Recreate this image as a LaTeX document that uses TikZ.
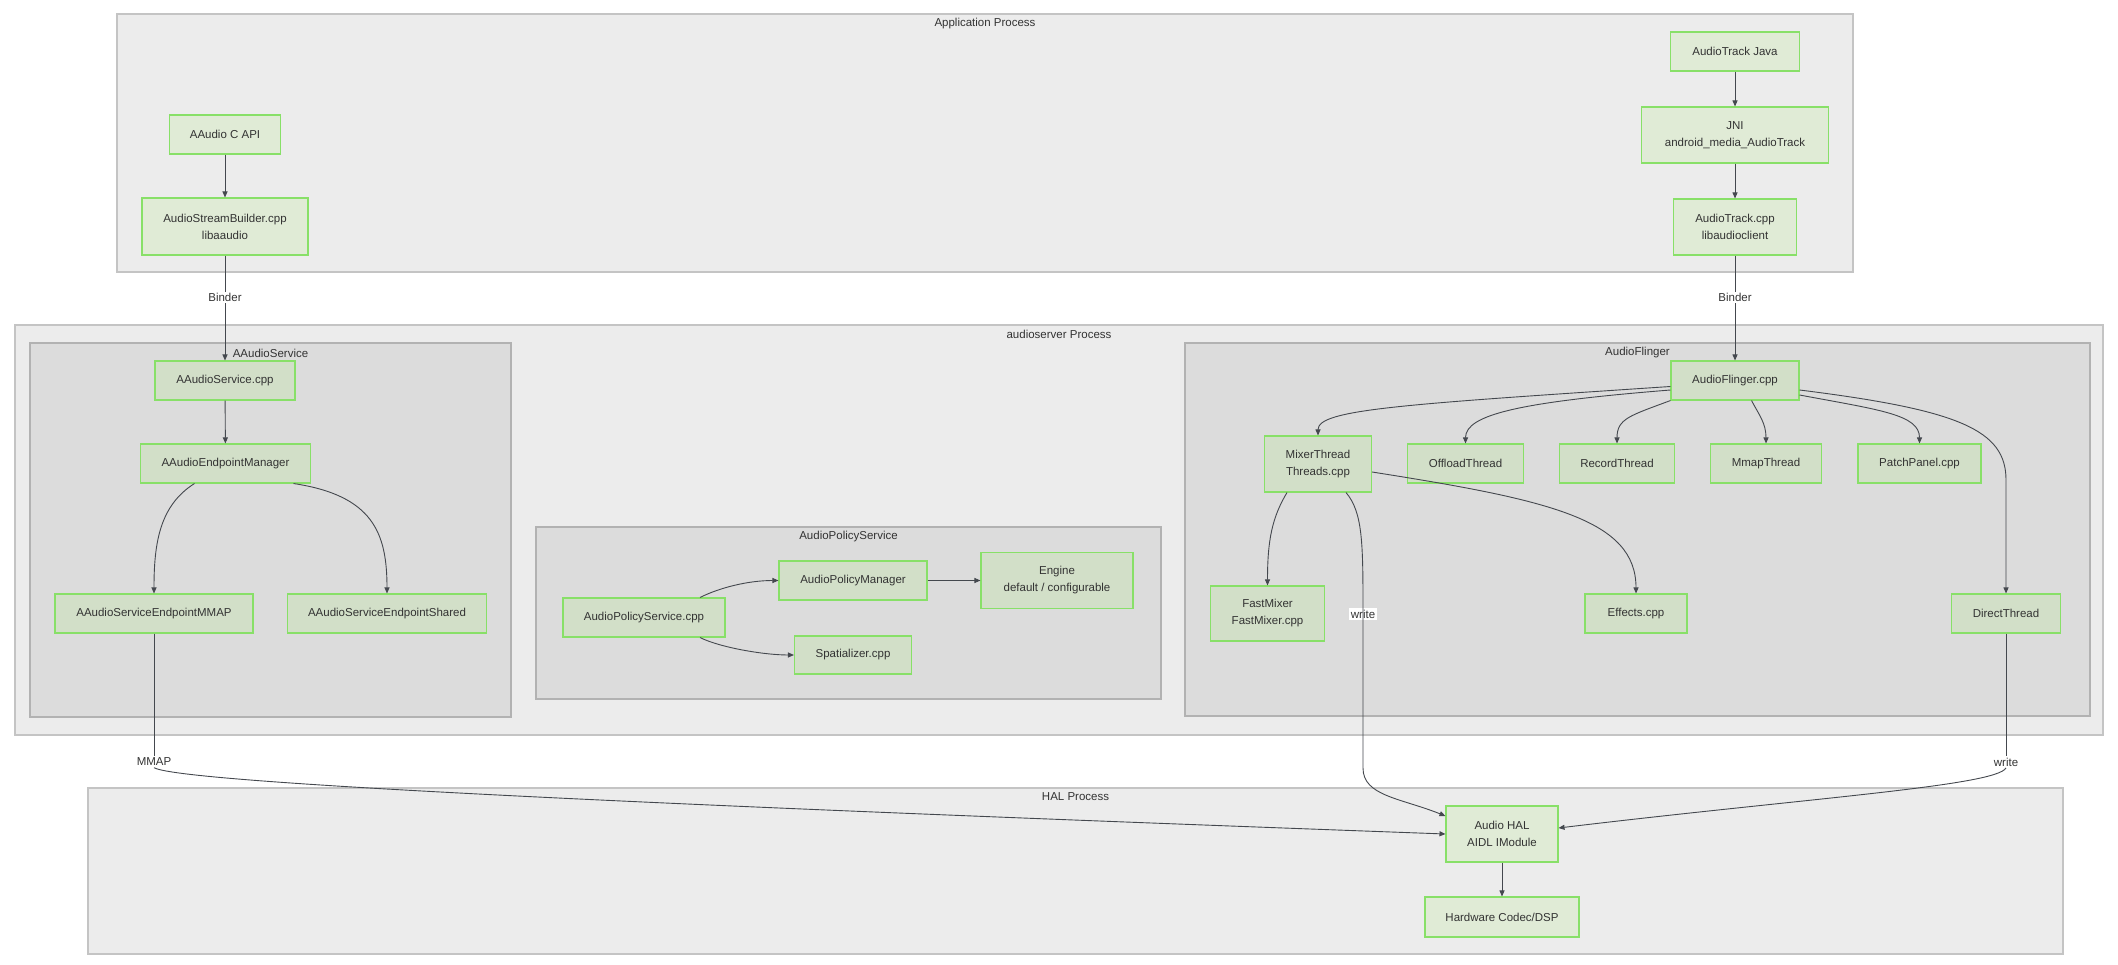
\documentclass[tikz,border=0pt]{standalone}
\usepackage{fontspec}
\setmainfont{Liberation Sans}
\usetikzlibrary{arrows.meta}
\definecolor{procfill}{RGB}{236,236,236}
\definecolor{procline}{RGB}{196,196,196}
\definecolor{svcfill}{RGB}{220,220,220}
\definecolor{svcline}{RGB}{178,178,178}
\definecolor{boxfill}{RGB}{224,235,214}
\definecolor{boxfilldk}{RGB}{210,223,200}
\definecolor{boxline}{RGB}{136,224,104}
\definecolor{inkcol}{RGB}{51,51,51}
\definecolor{wirecol}{RGB}{68,72,78}
\begin{document}
\begin{tikzpicture}[x=1pt,y=-1pt,
  font=\fontsize{11.5}{17}\selectfont, text=inkcol,
  proc/.style={draw=procline,fill=procfill,line width=1.2pt},
  svc/.style={draw=svcline,fill=svcfill,line width=1.2pt},
  comp/.style={draw=boxline,fill=boxfill,line width=1.05pt,minimum height=39pt,inner xsep=4pt,inner ysep=0pt,align=center},
  compdk/.style={comp,fill=boxfilldk},
  plain/.style={draw=wirecol,line width=0.9pt},
  wire/.style={plain,-{Triangle[length=6pt,width=5pt]}},
  tag/.style={fill=white,inner sep=1.5pt}]
\useasboundingbox (0,0) rectangle (2118,965);

\draw[proc] (117,14) rectangle (1853,272);
\node (applbl) at (985,24) {Application Process};
\draw[proc] (15,325) rectangle (2103,735);
\node (srvlbl) at (1059,334) {audioserver Process};
\draw[svc] (30,343) rectangle (511,717);
\node (aalbl) at (270.5,353) {AAudioService};
\draw[svc] (536,527) rectangle (1161,699);
\node (aplbl) at (848.5,537) {AudioPolicyService};
\draw[svc] (1185,343) rectangle (2090,716);
\node (aflbl) at (1637.5,353) {AudioFlinger};
\draw[proc] (88,788) rectangle (2063,954);
\node (hallbl) at (1075.5,797) {HAL Process};

\node[comp,minimum width=111pt] (capi) at (225,134.5) {AAudio C API};
\node[comp,minimum width=166pt,minimum height=57pt] (builder) at (225,226.5) {AudioStreamBuilder.cpp\\libaaudio};
\node[comp,minimum width=129pt] (atjava) at (1735,51.5) {AudioTrack Java};
\node[comp,minimum width=187pt,minimum height=56pt] (jni) at (1735,135) {JNI\\android\_media\_AudioTrack};
\node[comp,minimum width=123pt,minimum height=56pt] (atcpp) at (1735,227) {AudioTrack.cpp\\libaudioclient};

\node[compdk,minimum width=140pt] (aasvc) at (225,380.5) {AAudioService.cpp};
\node[compdk,minimum width=170pt] (aaepm) at (225.5,463.5) {AAudioEndpointManager};
\node[compdk,minimum width=198pt] (epmmap) at (154,613.5) {AAudioServiceEndpointMMAP};
\node[compdk,minimum width=199pt] (epshared) at (387,613.5) {AAudioServiceEndpointShared};

\node[compdk,minimum width=162pt] (apscpp) at (644,617.5) {AudioPolicyService.cpp};
\node[compdk,minimum width=148pt] (apm) at (853,580.5) {AudioPolicyManager};
\node[compdk,minimum width=152pt,minimum height=56pt] (engine) at (1057,580.5) {Engine\\default / configurable};
\node[compdk,minimum width=117pt,minimum height=38pt] (spat) at (853,655) {Spatializer.cpp};

\node[compdk,minimum width=128pt] (afcpp) at (1735,380.5) {AudioFlinger.cpp};
\node[compdk,minimum width=107pt,minimum height=56pt] (mixer) at (1318,464) {MixerThread\\Threads.cpp};
\node[compdk,minimum width=116pt] (offload) at (1465.5,463.5) {OffloadThread};
\node[compdk,minimum width=115pt] (record) at (1617,463.5) {RecordThread};
\node[compdk,minimum width=111pt] (mmapt) at (1766,463.5) {MmapThread};
\node[compdk,minimum width=123pt] (patch) at (1919.5,463.5) {PatchPanel.cpp};
\node[compdk,minimum width=114pt,minimum height=55pt] (fastmix) at (1267.5,613.5) {FastMixer\\FastMixer.cpp};
\node[compdk,minimum width=102pt] (effects) at (1636,613.5) {Effects.cpp};
\node[compdk,minimum width=109pt] (direct) at (2006,613.5) {DirectThread};

\node[comp,minimum width=112pt,minimum height=56pt] (hal) at (1502,834) {Audio HAL\\AIDL IModule};
\node[comp,minimum width=154pt,minimum height=40pt] (codec) at (1502,917) {Hardware Codec/DSP};

\node[tag] (mmapl) at (154,762) {MMAP};
\node[tag] (wrl) at (1363,614) {write};
\node[tag] (wrr) at (2006,762) {write};
\coordinate (wrbend) at (1363,768);

\draw[wire] (capi) -- (builder);
\draw[wire] (builder) -- node[tag,pos=0.4] (bindl) {Binder} (aasvc);
\draw[wire] (atjava) -- (jni);
\draw[wire] (jni) -- (atcpp);
\draw[wire] (atcpp) -- node[tag,pos=0.4] (bindr) {Binder} (afcpp);

\draw[wire] (aasvc) -- (aaepm);
\draw[wire] ([xshift=-31pt]aaepm.south) .. controls +(-35,22) and +(0,-50) .. (epmmap.north);
\draw[wire] ([xshift=68pt]aaepm.south) .. controls +(80,12) and +(0,-60) .. (epshared.north);
\draw[plain] (epmmap) -- (mmapl);
\draw[wire] (mmapl.south) .. controls +(30,18) and +(-600,-22) .. (hal.west);

\draw[wire] ([xshift=56pt]apscpp.north) .. controls +(20,-10) and +(-30,0) .. (apm.west);
\draw[wire] ([xshift=56pt]apscpp.south) .. controls +(20,10) and +(-30,0) .. (spat.west);
\draw[wire] (apm) -- (engine);

\draw[wire] ([yshift=-6pt]afcpp.west) .. controls +(-270,18) and +(0,-26) .. (mixer.north);
\draw[wire] ([yshift=-9.5pt]afcpp.west) .. controls +(-150,12) and +(0,-29) .. (offload.north);
\draw[wire] (afcpp.south west) .. controls +(-40,15) and +(0,-25) .. (record.north);
\draw[wire] ([xshift=16.5pt]afcpp.south) .. controls +(8,15) and +(0,-20) .. (mmapt.north);
\draw[wire] ([yshift=-14.5pt]afcpp.east) .. controls +(80,15) and +(0,-29) .. (patch.north);
\draw[wire] ([yshift=-9.5pt]afcpp.east) .. controls +(160,20) and +(0,-50) .. (direct.north |- 0,480) -- (direct.north);

\draw[wire] ([xshift=-31pt]mixer.south) .. controls +(-15,25) and +(0,-45) .. (fastmix.north);
\draw[wire] ([yshift=-8pt]mixer.east) .. controls +(178,28) and +(0,-74) .. (effects.north);
\draw[wire] ([xshift=28pt]mixer.south) .. controls +(17,20) and +(0,-70) .. (wrl.center) -- (wrbend) .. controls +(0,28) and +(-45,-18) .. ([yshift=18pt]hal.west);
\draw[plain] (direct) -- (wrr);
\draw[wire] (wrr.south) .. controls +(-10,18) and +(250,-30) .. ([yshift=6pt]hal.east);

\draw[wire] (hal) -- (codec);
\end{tikzpicture}
\end{document}
